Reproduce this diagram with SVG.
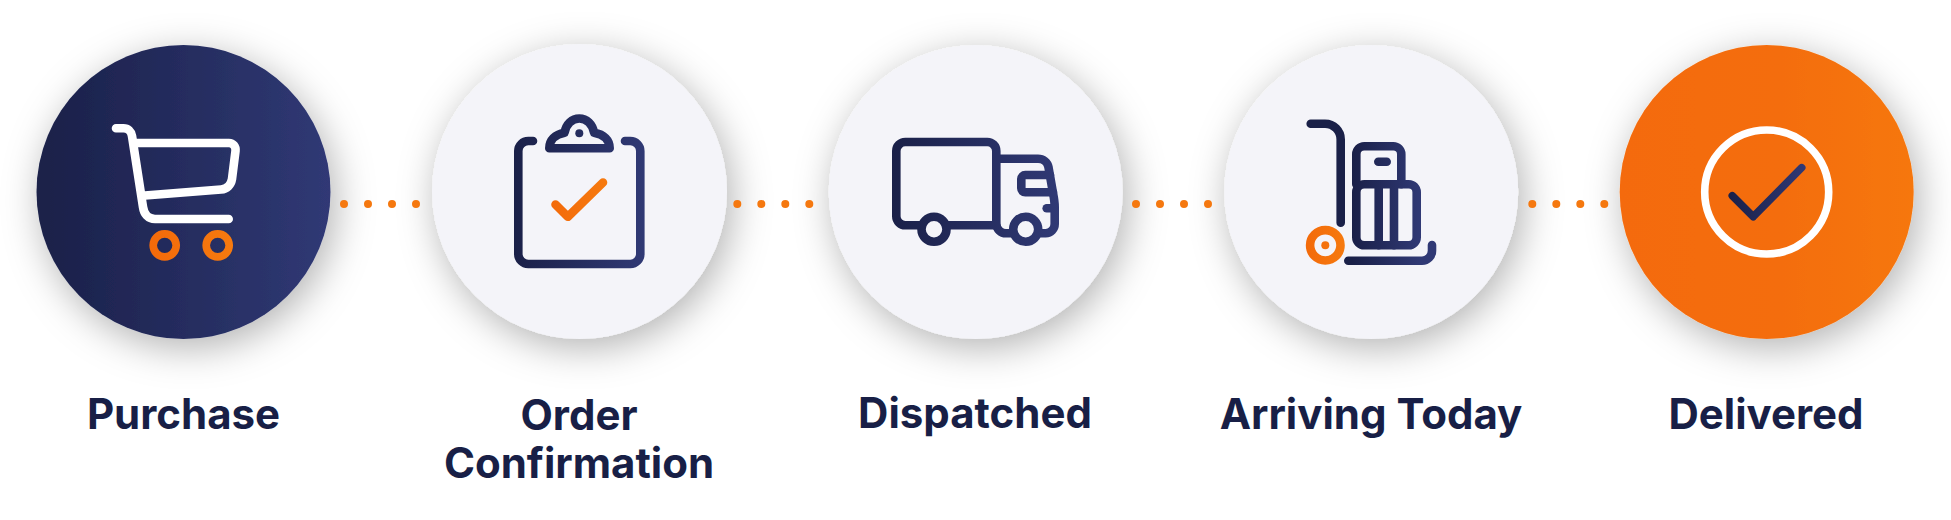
<svg xmlns="http://www.w3.org/2000/svg" xmlns:xlink="http://www.w3.org/1999/xlink" width="1951" height="520" viewBox="0 0 1951 520">
<style>
text{font-family:"Inter","Liberation Sans",sans-serif;font-weight:700;font-size:42px;fill:#181f46;text-anchor:middle}
.ic{fill:none;stroke-width:8.6;stroke-linecap:round;stroke-linejoin:round}
.dots{fill:none;stroke:#f5780f;stroke-width:8;stroke-linecap:round;stroke-dasharray:0 24}
.disc{filter:url(#sh)}
</style>
<defs>
<filter id="sh" x="-35%" y="-35%" width="170%" height="170%"><feDropShadow dx="5" dy="9" stdDeviation="19" flood-color="#000" flood-opacity="0.3"/></filter>
<linearGradient id="navy"><stop offset="0" stop-color="#1a2048"/><stop offset="1" stop-color="#303975"/></linearGradient>
<linearGradient id="org"><stop offset="0" stop-color="#f36a0a"/><stop offset="1" stop-color="#f67a0f"/></linearGradient>
<linearGradient id="g1" xlink:href="#navy" gradientUnits="userSpaceOnUse" x1="36" y1="0" x2="331" y2="0"/>
<linearGradient id="g2" xlink:href="#navy" gradientUnits="userSpaceOnUse" x1="514" y1="0" x2="645" y2="0"/>
<linearGradient id="g3" xlink:href="#navy" gradientUnits="userSpaceOnUse" x1="892" y1="0" x2="1059" y2="0"/>
<linearGradient id="g4" xlink:href="#navy" gradientUnits="userSpaceOnUse" x1="1352" y1="0" x2="1421" y2="0"/>
<linearGradient id="g5" xlink:href="#navy" gradientUnits="userSpaceOnUse" x1="1728" y1="0" x2="1806" y2="0"/>
<linearGradient id="o1" gradientUnits="userSpaceOnUse" x1="1619" y1="0" x2="1914" y2="0"><stop offset="0" stop-color="#f46b0a"/><stop offset="0.55" stop-color="#f46d0a"/><stop offset="1" stop-color="#f6770e"/></linearGradient>
<linearGradient id="o2" xlink:href="#org" gradientUnits="userSpaceOnUse" x1="150" y1="0" x2="233" y2="0"/>
<linearGradient id="o3" xlink:href="#org" gradientUnits="userSpaceOnUse" x1="551" y1="0" x2="607" y2="0"/>
<linearGradient id="o4" xlink:href="#org" gradientUnits="userSpaceOnUse" x1="1306" y1="0" x2="1345" y2="0"/>
</defs>
<rect width="1951" height="520" fill="#fff"/>

<g id="node-purchase">
<circle class="disc" cx="183.5" cy="192" r="147" fill="url(#g1)"/>
<path class="ic" stroke="#fff" d="M116,128.3 H123.5 C128,128.3 131.3,131.3 132,136 L143,207 C144,214 148,219 155,219 H228.7"/>
<path class="ic" stroke="#fff" d="M134,143 H229 C233,143 236,146.5 235.5,151 L232,179 C231,185 227,189 221,189.5 L145,195.5"/>
<circle class="ic" stroke="url(#o2)" style="stroke-width:7.7" cx="164.7" cy="245.3" r="11.5"/>
<circle class="ic" stroke="url(#o2)" style="stroke-width:7.7" cx="217.7" cy="245.3" r="11.5"/>
<text x="183.5" y="428.5">Purchase</text>
</g>

<g id="node-order-confirmation">
<circle class="disc" cx="579.5" cy="191.5" r="147.5" fill="#f4f4f9"/>
<path class="ic" stroke="url(#g2)" d="M533,141 H528.3 A10,10 0 0 0 518.3,151 V254 A10,10 0 0 0 528.3,264 H630.3 A10,10 0 0 0 640.3,254 V151 A10,10 0 0 0 630.3,141 H625"/>
<path class="ic" stroke="url(#g2)" d="M549.3,148.3 C549.3,140 555,134.5 564.5,132.8 C566,124 572,118.5 579.3,118.5 C586.6,118.5 592.6,124 594.1,132.8 C604,134.5 609.7,140 609.7,148.3 Z"/>
<circle cx="579.3" cy="133.3" r="4" fill="url(#g2)"/>
<path class="ic" stroke="url(#o3)" d="M555.5,204.5 L567.8,216.8 L603,182.5"/>
<text x="579" y="429.5">Order</text>
<text x="579" y="477.5">Confirmation</text>
</g>

<g id="node-dispatched">
<circle class="disc" cx="975.7" cy="192" r="147" fill="#f4f4f9"/>
<g class="ic" stroke="url(#g3)">
<path d="M922,225.3 H905.3 A9,9 0 0 1 896.3,216.3 V151 A9,9 0 0 1 905.3,142 H987.3 A9,9 0 0 1 996.3,151 V224 C996.3,229 1001,233.3 1006,233.3 H1012"/>
<path d="M946,225.3 H996.3"/>
<path d="M996.3,158.7 H1038 C1043,158.7 1047.5,162.2 1048.5,167.2 L1053,193 C1054,198 1054.7,202 1054.7,207 V224 C1054.7,229 1050.7,233.3 1045.7,233.3 H1040"/>
<path d="M1050,175 H1025.3 A4,4 0 0 0 1021.3,179 V188.3 A4,4 0 0 0 1025.3,192.3 H1053"/>
<path d="M1046.7,208.3 H1054"/>
<circle cx="934" cy="229.3" r="12.5"/>
<circle cx="1025.7" cy="229.3" r="12.5"/>
</g>
<text x="975" y="428">Dispatched</text>
</g>

<g id="node-arriving-today">
<circle class="disc" cx="1371.2" cy="192" r="147" fill="#f4f4f9"/>
<g class="ic" stroke="url(#g4)">
<path d="M1310.7,123.7 H1325 A15.7,15.7 0 0 1 1340.7,139.4 V222.7"/>
<path d="M1348.3,260.7 H1422 A10,10 0 0 0 1432,250.7 V245"/>
<path d="M1356.3,184.3 V154.3 A8,8 0 0 1 1364.3,146.3 H1393.3 A8,8 0 0 1 1401.3,154.3 V184.3"/>
<rect x="1356.3" y="184.3" width="60.4" height="61" rx="8"/>
<path d="M1378.7,184.3 V245.3 M1394,184.3 V245.3"/>
<path d="M1378.3,161.7 H1386.7"/>
</g>
<circle class="ic" stroke="url(#o4)" cx="1325.3" cy="245.3" r="15.2"/>
<circle cx="1325.3" cy="245.3" r="4" fill="url(#o4)"/>
<text x="1371" y="428.5">Arriving Today</text>
</g>

<g id="node-delivered">
<circle class="disc" cx="1766.7" cy="192" r="147" fill="url(#o1)"/>
<circle class="ic" stroke="#fff" style="stroke-width:7.6" cx="1766.7" cy="192" r="62"/>
<path class="ic" stroke="url(#g5)" style="stroke-width:7.6" d="M1732.3,195.7 L1753.3,216.7 L1801.7,167.7"/>
<text x="1766" y="428.5">Delivered</text>
</g>

<g id="connectors">
<path class="dots" d="M344,204 H417"/>
<path class="dots" d="M737.3,204 H810.3"/>
<path class="dots" d="M1136,204 H1209"/>
<path class="dots" d="M1532.3,204 H1605.3"/>
</g>
</svg>
